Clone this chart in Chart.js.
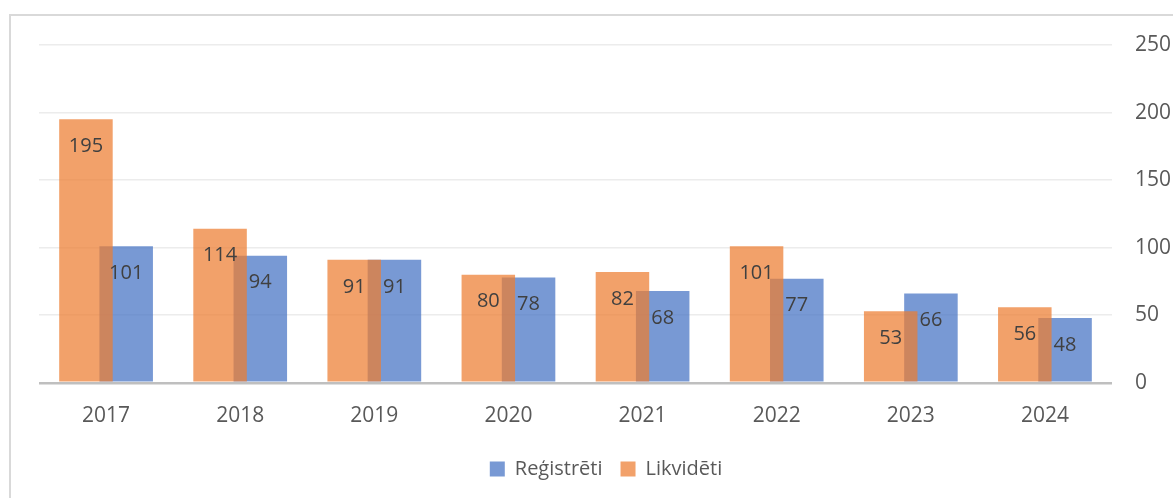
<!DOCTYPE html>
<html>
<head>
<meta charset="utf-8">
<script src="https://cdn.jsdelivr.net/npm/chart.js@4.4.1/dist/chart.umd.min.js"></script>
<style>
  html, body { margin: 0; padding: 0; background: #fff; }
  #wrap { position: relative; width: 1173px; height: 498px; overflow: hidden; }
  #frame {
    position: absolute; left: 9px; top: 14px; width: 1300px; height: 600px;
    border-top: 2px solid #d9d9d9; border-left: 2px solid #d9d9d9;
    pointer-events: none;
  }
  canvas { position: absolute; left: 0; top: 0; }
</style>
</head>
<body>
<div id="wrap">
  <canvas id="chart" width="1173" height="498"></canvas>
  <div id="frame"></div>
</div>
<script>
const years = ["2017", "2018", "2019", "2020", "2021", "2022", "2023", "2024"];
const registreti = [101, 94, 91, 78, 68, 77, 66, 48];
const likvideti = [195, 114, 91, 80, 82, 101, 53, 56];
const yTicks = [0, 50, 100, 150, 200, 250];

const fontFamily = "'Open Sans', 'Noto Sans', sans-serif";

// writes the value inside each bar, a bit below its top
const barLabels = {
  id: "barLabels",
  afterDatasetsDraw(chart) {
    const ctx = chart.ctx;
    ctx.save();
    ctx.font = "20px " + fontFamily;
    ctx.fillStyle = "#404040";
    ctx.textAlign = "center";
    ctx.textBaseline = "middle";
    chart.data.datasets.forEach((ds, i) => {
      const meta = chart.getDatasetMeta(i);
      meta.data.forEach((bar, j) => {
        ctx.fillText(String(ds.data[j]), bar.x, bar.y + 27);
      });
    });
    ctx.restore();
  }
};

new Chart(document.getElementById("chart").getContext("2d"), {
  type: "bar",
  data: {
    labels: years,
    datasets: [
      {
        label: "Likvidēti",
        data: likvideti,
        backgroundColor: "rgba(237, 125, 49, 0.72)",
        barPercentage: 1.33,
        categoryPercentage: 0.6
      },
      {
        label: "Reģistrēti",
        data: registreti,
        backgroundColor: "rgba(68, 114, 196, 0.72)",
        barPercentage: 1.33,
        categoryPercentage: 0.6
      }
    ]
  },
  options: {
    responsive: false,
    animation: false,
    layout: { padding: { left: 39, top: 45, right: 0, bottom: 9 } },
    plugins: {
      tooltip: { enabled: false },
      legend: {
        position: "bottom",
        labels: {
          color: "#595959",
          font: { family: fontFamily, size: 20 },
          boxWidth: 15,
          boxHeight: 15,
          padding: 18,
          sort: (a, b) => b.datasetIndex - a.datasetIndex
        }
      }
    },
    scales: {
      x: {
        grid: { display: false },
        border: { display: false },
        afterFit: (scale) => { scale.height = scale.height - 1; },
        ticks: {
          color: "#595959",
          font: { family: fontFamily, size: 21 },
          padding: 13
        }
      },
      y: {
        position: "right",
        min: 0,
        max: 250,
        afterBuildTicks: (scale) => {
          scale.ticks = yTicks.map(v => ({ value: v }));
        },
        afterFit: (scale) => { scale.width = 61; },
        grid: {
          drawTicks: false,
          color: (c) => c.tick && c.tick.value === 0 ? "#bfbfbf" : "#ececec",
          lineWidth: (c) => c.tick && c.tick.value === 0 ? 2.5 : 1.5
        },
        border: { display: false },
        ticks: {
          color: "#595959",
          font: { family: fontFamily, size: 21 },
          padding: 23
        }
      }
    }
  },
  plugins: [barLabels]
});
</script>
</body>
</html>
